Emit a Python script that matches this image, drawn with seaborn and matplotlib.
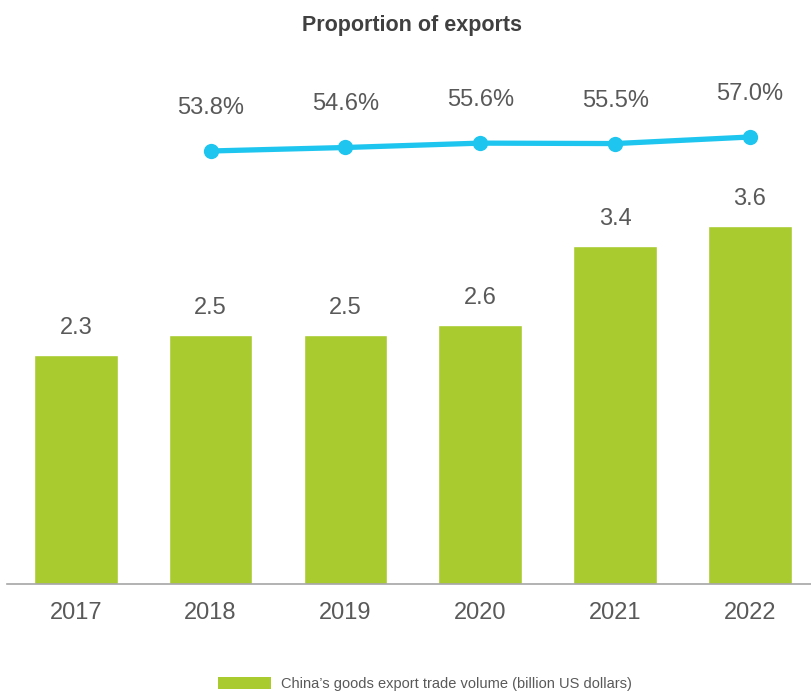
import matplotlib
matplotlib.use("Agg")
import matplotlib.pyplot as plt
import seaborn as sns
import pandas as pd
from matplotlib.patches import Patch

sns.set_style("white")
plt.rcParams['font.family'] = ['Liberation Sans', 'DejaVu Sans']

years = ["2017", "2018", "2019", "2020", "2021", "2022"]
export_volume = [2.3, 2.5, 2.5, 2.6, 3.4, 3.6]
share_years = ["2018", "2019", "2020", "2021", "2022"]
export_share = [53.8, 54.6, 55.6, 55.5, 57.0]

BAR_COLOR = "#A9CB2F"
LINE_COLOR = "#1EC6EF"
TEXT_COLOR = "#595959"

bars = pd.DataFrame({"year": years, "volume": export_volume})
line = pd.DataFrame({"pos": [years.index(y) for y in share_years], "share": export_share})

fig = plt.figure(figsize=(8.12, 6.92), dpi=100)
ax = fig.add_axes([7 / 812, 108 / 692, 1 - 7 / 812, 484 / 692])

sns.barplot(data=bars, x="year", y="volume", color=BAR_COLOR, width=0.62,
            saturation=1, ax=ax)
ax.set_ylim(0, 484 / 99.5)
ax.set_xlim(-0.51, 5.46)
for i, v in enumerate(export_volume):
    ax.annotate(f"{v:.1f}", (i, v), xytext=(0, 27), textcoords="offset pixels",
                ha="center", va="center", fontsize=17, color=TEXT_COLOR)

ax.set_xlabel("")
ax.set_ylabel("")
ax.set_yticks([])
ax.tick_params(axis="x", length=0, labelsize=17, labelcolor=TEXT_COLOR, pad=13)
for s in ["top", "right", "left"]:
    ax.spines[s].set_visible(False)
ax.spines["bottom"].set_color("#A6A6A6")
ax.spines["bottom"].set_linewidth(1.2)

ax2 = ax.twinx()
sns.lineplot(data=line, x="pos", y="share", color=LINE_COLOR, linewidth=3.8,
             marker="o", markersize=11, markeredgewidth=0, ax=ax2)
ax2.set_ylim(-45.2, 65.46)
for p, v in zip(line["pos"], export_share):
    ax2.annotate(f"{v:.1f}%", (p, v), xytext=(0, 43), textcoords="offset pixels",
                 ha="center", va="center", fontsize=17, color=TEXT_COLOR)
ax2.set_yticks([])
ax2.set_ylabel("")
ax2.set_xlabel("")
for s in ax2.spines.values():
    s.set_visible(False)

fig.text(412 / 812, 1 - 25 / 692, "Proportion of exports", ha="center", va="center",
         fontsize=15.5, fontweight="bold", color="#404040")

handles = [Patch(facecolor=BAR_COLOR, edgecolor="none",
                 label="China\u2019s goods export trade volume (billion US dollars)")]
fig.legend(handles=handles, loc="center", bbox_to_anchor=(425 / 812, 1 - 684 / 692),
           frameon=False, fontsize=10.5, handlelength=3.6, handleheight=0.9,
           handletextpad=0.7, labelcolor=TEXT_COLOR)

fig.savefig("out.png", dpi=100)
